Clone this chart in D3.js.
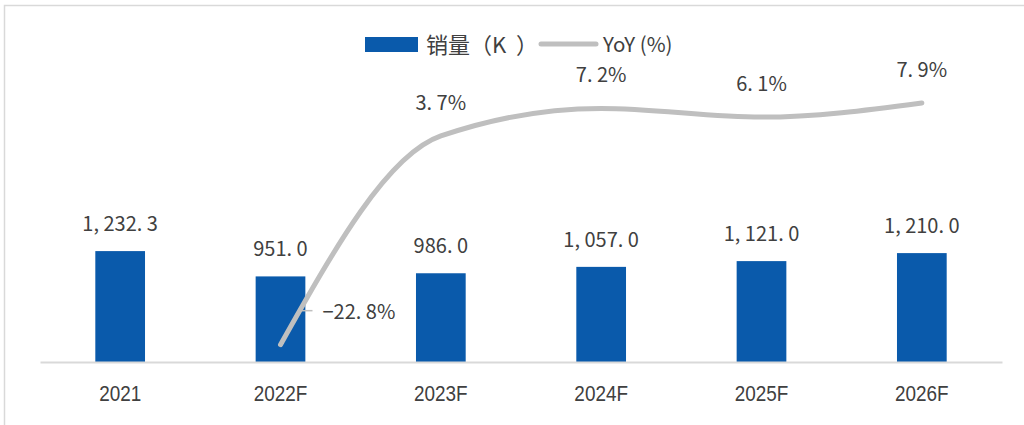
<!DOCTYPE html>
<html>
<head>
<meta charset="utf-8">
<script src="https://cdn.jsdelivr.net/npm/d3@7/dist/d3.min.js"></script>
<style>
  html, body { margin: 0; padding: 0; background: #fff; }
  svg { display: block; }
</style>
</head>
<body>
<svg id="chart" width="1024" height="425"></svg>
<script>
// Sales volume (K units) with year-over-year growth
const years = ["2021", "2022F", "2023F", "2024F", "2025F", "2026F"];
const sales = [1232.3, 951.0, 986.0, 1057.0, 1121.0, 1210.0];
const yoyYears = ["2022F", "2023F", "2024F", "2025F", "2026F"];
const yoy = [-22.8, 3.7, 7.2, 6.1, 7.9];
const legendLabels = ["销量（K  ）", "YoY (%)"];

const BLUE = "#0a5aab";
const GREY_LINE = "#bfbfbf";
const TEXT = "#404040";
const CJK = "'Noto Sans CJK SC', 'Noto Sans', sans-serif";
const SANS = "'Liberation Sans', Arial, sans-serif";

const svg = d3.select("#chart");

// Outer frame (top and left edges)
svg.append("path")
  .attr("d", "M4.5,425 V5.5 H1024")
  .attr("fill", "none")
  .attr("stroke", "#d9d9d9")
  .attr("stroke-width", 1.5);

const plot = { left: 40, right: 1002, top: 47, bottom: 362 };

const x = d3.scaleBand().domain(years).range([plot.left, plot.right]).padding(0);
const y = d3.scaleLinear().domain([0, 3500]).range([plot.bottom, plot.top]);
const y2 = d3.scaleLinear().domain([-25, 15]).range([plot.bottom, plot.top]);
const barW = x.bandwidth() * 0.31;
const cx = d => x(d) + x.bandwidth() / 2;

// Number formatting with the wide punctuation spacing used in the labels
const fmtNum = v => d3.format(",.1f")(v).replace(/,/g, ", ").replace(/\./g, ". ");
const fmtPct = v => d3.format(".1f")(v).replace("-", "\u2212").replace(/\./g, ". ") + "%";

// Bars
svg.append("g").selectAll("rect")
  .data(years.map((yr, i) => ({ yr, v: sales[i] })))
  .join("rect")
  .attr("x", d => cx(d.yr) - barW / 2)
  .attr("y", d => y(d.v))
  .attr("width", barW)
  .attr("height", d => y(0) - y(d.v))
  .attr("fill", BLUE);

// Category axis (condensed tick labels)
const xAxis = svg.append("g")
  .attr("transform", `translate(0,${plot.bottom})`)
  .call(d3.axisBottom(x).tickSize(0).tickPadding(0));
xAxis.select(".domain").attr("stroke", "#d9d9d9").attr("stroke-width", 2);
xAxis.selectAll("text")
  .attr("y", 0)
  .attr("dy", 0)
  .attr("transform", "translate(0,39) scale(0.86,1)")
  .attr("fill", TEXT)
  .style("font-family", SANS)
  .style("font-size", "22px");

// Bar value labels
svg.append("g").selectAll("text")
  .data(years.map((yr, i) => ({ yr, v: sales[i] })))
  .join("text")
  .attr("x", d => cx(d.yr))
  .attr("y", d => y(d.v) - 20)
  .attr("text-anchor", "middle")
  .attr("fill", TEXT)
  .style("font-family", CJK)
  .style("font-size", "20px")
  .text(d => fmtNum(d.v));

// YoY line
const pts = yoyYears.map((yr, i) => ({ yr, v: yoy[i] }));
const line = d3.line()
  .x(d => cx(d.yr))
  .y(d => y2(d.v))
  .curve(d3.curveMonotoneX);
svg.append("path")
  .datum(pts)
  .attr("d", line)
  .attr("fill", "none")
  .attr("stroke", GREY_LINE)
  .attr("stroke-width", 5)
  .attr("stroke-linecap", "round")
  .attr("stroke-linejoin", "round");

// YoY labels
const first = pts[0];
svg.append("line")
  .attr("x1", cx(first.yr) + 20).attr("x2", cx(first.yr) + 32)
  .attr("y1", y2(first.v) - 34).attr("y2", y2(first.v) - 34)
  .attr("stroke", GREY_LINE).attr("stroke-width", 1.5);
svg.append("g").selectAll("text")
  .data(pts)
  .join("text")
  .attr("x", (d, i) => i === 0 ? cx(d.yr) + 42 : cx(d.yr))
  .attr("y", d => y2(d.v) - 26)
  .attr("text-anchor", (d, i) => i === 0 ? "start" : "middle")
  .attr("fill", TEXT)
  .style("font-family", CJK)
  .style("font-size", "20px")
  .text(d => fmtPct(d.v));

// Legend
const lg = svg.append("g");
lg.append("rect")
  .attr("x", 365).attr("y", 37).attr("width", 53).attr("height", 15)
  .attr("fill", BLUE);
lg.append("text")
  .attr("x", 426).attr("y", 53)
  .attr("fill", TEXT)
  .style("font-family", CJK)
  .style("font-size", "22px")
  .style("white-space", "pre")
  .text(legendLabels[0]);
lg.append("line")
  .attr("x1", 541).attr("x2", 596).attr("y1", 44).attr("y2", 44)
  .attr("stroke", GREY_LINE).attr("stroke-width", 5).attr("stroke-linecap", "round");
lg.append("text")
  .attr("x", 603).attr("y", 52)
  .attr("fill", TEXT)
  .style("font-family", CJK)
  .style("font-size", "20.5px")
  .text(legendLabels[1]);
</script>
</body>
</html>
